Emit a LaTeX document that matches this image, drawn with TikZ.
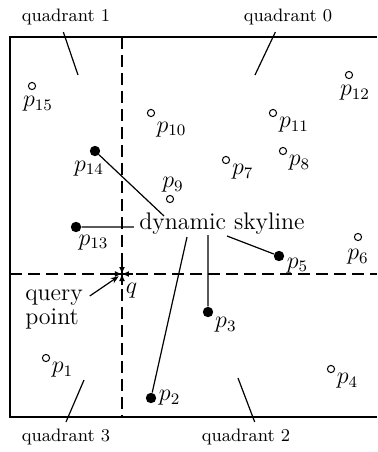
\documentclass[tikz,border=0pt]{standalone}
\usetikzlibrary{calc,arrows.meta}

\begin{document}
\begin{tikzpicture}[x=0.5pt,y=-0.5pt,
    hollow/.style={draw,circle,inner sep=0pt,minimum size=3.6pt,line width=0.5pt},
    skydot/.style={fill,circle,inner sep=0pt,minimum size=5.2pt},
    every label/.style={font=\large,inner sep=1pt},
    axis/.style={line width=0.8pt,dash pattern=on 6pt off 3pt},
    lead/.style={line width=0.6pt},
    qlab/.style={font=\small}]
  \useasboundingbox (0,0) rectangle (377,452);

  % region and the four quadrants
  \draw[line width=1pt] (377,37) -- (10,37) -- (10,417) -- (377,417);
  \draw[axis] (10,274) -- (377,274);
  \draw[axis] (122,37) -- (122,417);

  \node[qlab] (Q1) at (66,17) {quadrant 1};
  \node[qlab] (Q0) at (288,17) {quadrant 0};
  \node[qlab] (Q3) at (66,437) {quadrant 3};
  \node[qlab] (Q2) at (246,437) {quadrant 2};
  \coordinate (c1) at (78,75);
  \coordinate (c0) at (255,75);
  \coordinate (c3) at (84,380);
  \coordinate (c2) at (238,378);
  \draw[lead] (Q1.-100) -- (c1) (Q0.-130) -- (c0);
  \draw[lead] (Q3.north) -- (c3) (Q2.60) -- (c2);

  % data points
  \node[hollow,label={[xshift=3pt,yshift=-2pt]-90:$p_{15}$}] (p15) at (32,86) {};
  \node[hollow,label={[yshift=-2pt]-38:$p_{10}$}] (p10) at (151,113) {};
  \node[hollow,label={-25:$p_{11}$}] (p11) at (273,113) {};
  \node[hollow,label={[xshift=3pt,yshift=-2pt]-90:$p_{12}$}] (p12) at (349,75) {};
  \node[skydot,label={[xshift=-3pt,yshift=-1pt]-90:$p_{14}$}] (p14) at (95,151) {};
  \node[hollow,label={[xshift=1.5pt]90:$p_9$}] (p9) at (170,199) {};
  \node[hollow,label={-25:$p_7$}] (p7) at (226,160) {};
  \node[hollow,label={-30:$p_8$}] (p8) at (283,151) {};
  \node[skydot,label={[xshift=-2pt,yshift=-1pt]-40:$p_{13}$}] (p13) at (76,227) {};
  \node[hollow,label={[yshift=-3pt]-90:$p_6$}] (p6) at (358,237) {};
  \node[skydot,label={[yshift=1pt]-15:$p_5$}] (p5) at (279,256) {};
  \node[skydot,label={-30:$p_3$}] (p3) at (208,312) {};
  \node[hollow,label={-30:$p_1$}] (p1) at (46,358) {};
  \node[hollow,label={-30:$p_4$}] (p4) at (331,369) {};
  \node[skydot,label={0:$p_2$}] (p2) at (151,398) {};

  % query point
  \coordinate[label={[label distance=2pt,yshift=-1.5pt]-70:$q$}] (q) at (122,274);
  \foreach \a in {0,90,180,270}
    \draw[-{Latex[length=3.5pt,width=3pt]},line width=0.6pt] (q) ++(\a:11) -- (q);
  \node[font=\large,align=left] (qp) at (54,309) {query\\[-2pt]point};
  \draw[lead,-{Stealth[length=4pt,width=3pt]},shorten >=2pt] (qp.20) -- (q);

  % dynamic skyline
  \node[font=\large] (sky) at (222,224) {dynamic skyline};
  \coordinate (s14) at (164,216);
  \coordinate (s13) at (134,227);
  \coordinate (s2) at (187,237);
  \coordinate (s3) at (208,235);
  \coordinate (s5) at (227,236);
  \draw[lead] (s14) -- (p14) (s13) -- (p13);
  \draw[lead] (s2) -- (p2) (s3) -- (p3) (s5) -- (p5);
\end{tikzpicture}
\end{document}
